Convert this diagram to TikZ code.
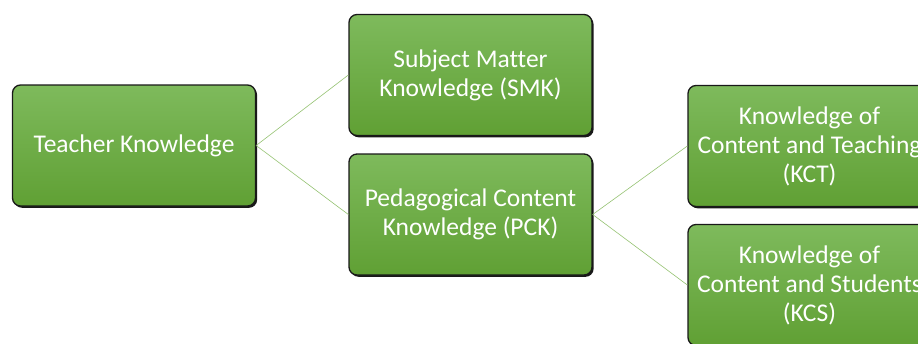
\documentclass[tikz,border=0pt]{standalone}
\usepackage{fontspec}
\setmainfont[Ligatures={NoCommon}]{Carlito}
\usetikzlibrary{shadows}
\definecolor{gtop}{RGB}{126,186,92}
\definecolor{gbot}{RGB}{96,160,52}
\definecolor{edgeg}{RGB}{150,195,115}
\tikzset{
  kbox/.style={rectangle, rounded corners=8pt, minimum width=243pt, minimum height=121pt,
    top color=gtop, bottom color=gbot, draw=black!90, line width=1.3pt,
    drop shadow={shadow xshift=1.6pt, shadow yshift=-1.8pt, fill=black, opacity=0.9},
    text=white, align=center, font=\fontsize{25.5}{29}\selectfont, inner sep=0pt},
  klink/.style={draw=edgeg, line width=0.6pt}
}
\begin{document}
\begin{tikzpicture}[x=1pt,y=-1pt]
\useasboundingbox (0,0) rectangle (918,343);
\clip (0,0) rectangle (918,343);
\fill[white] (0,0) rectangle (918,343);
\node[kbox] (tk) at (134,145.5) {Teacher Knowledge};
\node[kbox] (smk) at (470.5,75) {Subject Matter\\Knowledge (SMK)};
\node[kbox] (pck) at (470.5,214.5) {Pedagogical Content\\Knowledge (PCK)};
\node[kbox] (kct) at (809.5,146) {Knowledge of\\Content and Teaching\\(KCT)};
\node[kbox] (kcs) at (809.5,285) {Knowledge of\\Content and Students\\(KCS)};
\draw[klink] (tk.east) -- (smk.west);
\draw[klink] (tk.east) -- (pck.west);
\draw[klink] (pck.east) -- (kct.west);
\draw[klink] (pck.east) -- (kcs.west);
\end{tikzpicture}
\end{document}
